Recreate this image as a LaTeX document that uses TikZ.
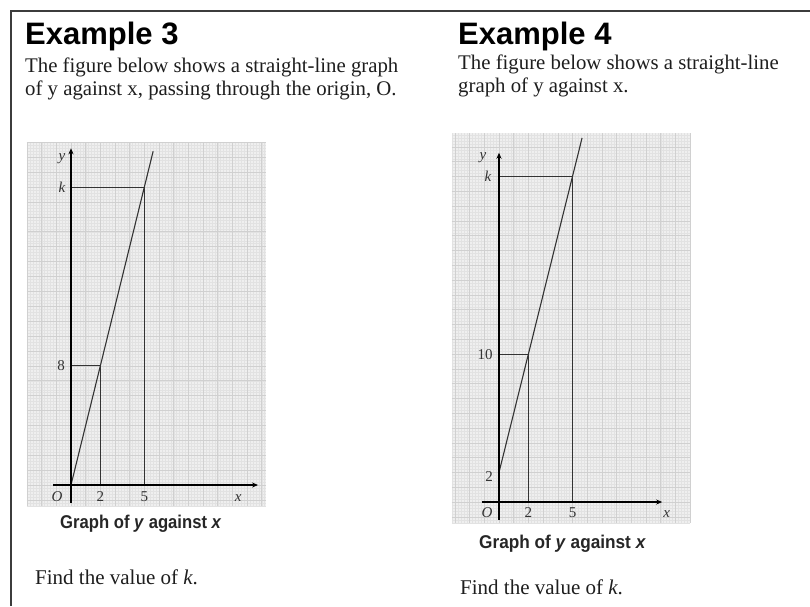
\documentclass[tikz,border=0pt]{standalone}
\usepackage{fontspec}
\setmainfont{Liberation Serif}
\newfontfamily\hfont{Liberation Sans}
\usetikzlibrary{arrows.meta}
\definecolor{ink}{HTML}{1E1E1E}
\definecolor{lineink}{HTML}{333333}
\definecolor{frameink}{HTML}{3C3C3C}
\definecolor{gridbg}{HTML}{EFEFEF}
\definecolor{gridminor}{HTML}{E2E2E2}
\definecolor{gridmajor}{HTML}{D0D0D0}
\begin{document}
\begin{tikzpicture}[x=1pt,y=-1pt,
  heading/.style={font=\hfont\bfseries\fontsize{31}{31}\selectfont, anchor=base west, inner sep=0pt, text=black},
  body/.style={font=\fontsize{20.8}{24}\selectfont, anchor=base west, inner sep=0pt, text=ink},
  captiontext/.style={font=\hfont\bfseries\fontsize{18.5}{18.5}\selectfont, anchor=base west, inner sep=0pt, text=black!85},
  findtext/.style={font=\fontsize{21}{21}\selectfont, anchor=base west, inner sep=0pt, text=ink},
  ticklab/.style={font=\fontsize{15}{15}\selectfont, inner sep=0pt, text height=10pt, text depth=0pt, text=black!80},
  axisline/.style={line width=1.8pt, black, -{Stealth[length=6pt,width=5pt]}},
  fnline/.style={line width=1.1pt, lineink},
  guide/.style={line width=0.7pt, lineink},
  minorgrid/.style={line width=0.3pt, gridminor},
  majorgrid/.style={line width=0.5pt, gridmajor},
  framestroke/.style={line width=2.6pt, frameink}
]
\useasboundingbox (0,0) rectangle (810,606);
\fill[white] (0,0) rectangle (810,606);

% frame
\coordinate (F-bl) at (11,606);
\coordinate (F-tl) at (11,11);
\coordinate (F-tr) at (810,11);
\draw[framestroke] (F-bl) -- (F-tl) -- (F-tr);

% texts left
\node[heading] (h3) at (25,44) {Example 3};
\node[body] (b3a) at (25,72) {The figure below shows a straight-line graph};
\node[body] (b3b) at (25,95) {of y against x, passing through the origin, O.};
\node[captiontext] (c3) at (60,528) {\scalebox{0.9}[1]{Graph of \textit{y} against \textit{x}}};
\node[findtext] (f3) at (35,584) {Find the value of \textit{k}.};

% texts right
\node[heading] (h4) at (458,44) {Example 4};
\node[body] (b4a) at (458,69) {The figure below shows a straight-line};
\node[body] (b4b) at (458,92) {graph of y against x.};
\node[captiontext] (c4) at (479,548) {\scalebox{0.93}[1]{Graph of \textit{y} against \textit{x}}};
\node[findtext] (f4) at (460,594) {Find the value of \textit{k}.};

% left graph
\begin{scope}[shift={(71pt,-485pt)}, x=14.67pt, y=14.9pt]
  \fill[gridbg] (-3,-1.4) rectangle (13.3,23);
  \draw[minorgrid,step=0.2] (-3,-1.4) grid (13.3,23);
  \draw[majorgrid,step=1] (-3,-1.4) grid (13.3,23);
  \coordinate (LO) at (0,0);
  \coordinate (Lyb) at (0,-1.2);
  \coordinate (Lyt) at (0,22.6);
  \coordinate (Lxl) at (-1.23,0);
  \coordinate (Lxr) at (12.75,0);
  \coordinate (Ltop) at (5.6,22.4);
  \coordinate (Lk) at (5,20);
  \coordinate (Lky) at (0,20);
  \coordinate (Lkx) at (5,0);
  \coordinate (L8) at (2,8);
  \coordinate (L8y) at (0,8);
  \coordinate (L8x) at (2,0);
  \draw[guide] (Lky) -- (Lk) -- (Lkx);
  \draw[guide] (L8y) -- (L8) -- (L8x);
  \draw[fnline] (LO) -- (Ltop);
  \draw[axisline] (Lyb) -- (Lyt);
  \draw[axisline] (Lxl) -- (Lxr);
  \node[ticklab] (Lylab) at (-0.61,22.1) {\textit{y}};
  \node[ticklab] (Lklab) at (-0.61,20) {\textit{k}};
  \node[ticklab] (L8lab) at (-0.68,8) {8};
  \node[ticklab] (LOlab) at (-0.95,-0.74) {\textit{O}};
  \node[ticklab] (L2lab) at (2,-0.74) {2};
  \node[ticklab] (L5lab) at (5,-0.74) {5};
  \node[ticklab] (Lxlab) at (11.4,-0.74) {\textit{x}};
\end{scope}

% right graph
\begin{scope}[shift={(499pt,-502pt)}, x=14.7pt, y=14.8pt]
  \fill[gridbg] (-3.2,-1.4) rectangle (13,24.9);
  \draw[minorgrid,step=0.2] (-3.2,-1.4) grid (13,24.9);
  \draw[majorgrid,step=1] (-3.2,-1.4) grid (13,24.9);
  \coordinate (RO) at (0,0);
  \coordinate (Ryb) at (0,-1.2);
  \coordinate (Ryt) at (0,23.6);
  \coordinate (Rxl) at (-1.16,0);
  \coordinate (Rxr) at (11.1,0);
  \coordinate (Rstart) at (0,2);
  \coordinate (Rtop) at (5.65,24.6);
  \coordinate (Rk) at (5,22);
  \coordinate (Rky) at (0,22);
  \coordinate (Rkx) at (5,0);
  \coordinate (R10) at (2,10);
  \coordinate (R10y) at (0,10);
  \coordinate (R10x) at (2,0);
  \draw[guide] (Rky) -- (Rk) -- (Rkx);
  \draw[guide] (R10y) -- (R10) -- (R10x);
  \draw[fnline] (Rstart) -- (Rtop);
  \draw[axisline] (Ryb) -- (Ryt);
  \draw[axisline] (Rxl) -- (Rxr);
  \node[ticklab] (Rylab) at (-1.09,23.5) {\textit{y}};
  \node[ticklab] (Rklab) at (-0.75,22) {\textit{k}};
  \node[ticklab] (R10lab) at (-0.95,10) {10};
  \node[ticklab] (Rtwolab) at (-0.68,1.7) {2};
  \node[ticklab] (ROlab) at (-0.82,-0.68) {\textit{O}};
  \node[ticklab] (R2lab) at (2,-0.68) {2};
  \node[ticklab] (R5lab) at (5,-0.68) {5};
  \node[ticklab] (Rxlab) at (11.4,-0.68) {\textit{x}};
\end{scope}
\end{tikzpicture}
\end{document}
